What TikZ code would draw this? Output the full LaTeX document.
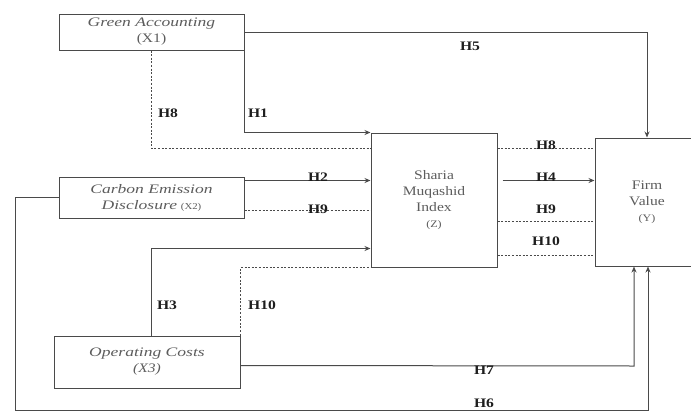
\documentclass[tikz,border=0pt]{standalone}
\usepackage{fontspec}
\setmainfont{Liberation Serif}[FakeStretch=1.2]
\newfontfamily\wideit{Liberation Serif}[FakeStretch=1.35]
\usetikzlibrary{positioning,arrows.meta,calc}
\definecolor{trazo}{HTML}{4A4A4A}
\definecolor{texto}{HTML}{5C5C5C}
\definecolor{etiq}{HTML}{1E1E1E}

\begin{document}
\begin{tikzpicture}[x=1pt, y=-1pt,
  font=\fontsize{13}{16}\selectfont,
  varbox/.style={draw=trazo, line width=1pt, align=center, inner sep=0pt, text=texto},
  arrowline/.style={-{Stealth[length=6pt,width=5pt]}, line width=1pt, trazo},
  plainline/.style={line width=1pt, trazo},
  dotline/.style={line width=0.8pt, trazo, dash pattern=on 2pt off 1.6pt},
  hyp/.style={font=\fontsize{13}{15}\selectfont\bfseries, text=etiq, inner sep=0pt}
]
  \useasboundingbox (0,0) rectangle (691,410);

  % variables
  \node[varbox, minimum width=185pt, minimum height=36pt] (green) at (151.5,32)
    {{\wideit\itshape Green Accounting}\\(X1)};
  \node[varbox, minimum width=185pt, minimum height=41pt] (carbon) at (151.5,197.5)
    {{\wideit\itshape Carbon Emission}\\{\wideit\itshape Disclosure} {\fontsize{9}{10}\selectfont (X2)}};
  \node[varbox, minimum width=186pt, minimum height=52pt] (opcost) at (147,362)
    {{\wideit\itshape Operating Costs}\\{\itshape (X3)}};
  \node[varbox, minimum width=126pt, minimum height=134pt] (sharia) at (434,200)
    {Sharia\\Muqashid\\Index\\{\fontsize{10}{12}\selectfont (Z)}};
  \node[varbox, minimum width=104pt, minimum height=128pt] (firm) at (647,202)
    {Firm\\Value\\{\fontsize{10}{12}\selectfont (Y)}};

  % helper points
  \coordinate (s8) at ($(sharia.north west)+(0,16)$);
  \coordinate (t8) at ($(sharia.north east)+(0,16)$);
  \coordinate (c2) at ($(carbon.north east)+(0,4)$);
  \coordinate (c9) at ($(carbon.north east)+(0,34)$);
  \coordinate (t4) at ($(sharia.north east)+(5,48)$);
  \coordinate (t9) at ($(sharia.north east)+(0,89)$);
  \coordinate (t10) at ($(sharia.north east)+(0,123)$);
  \coordinate (o3) at (opcost.north -| green.south);
  \coordinate (s3) at ($(sharia.south west)+(0,-19)$);
  \coordinate (o7) at ($(opcost.north east)+(0,30)$);
  \coordinate (k7) at (634,366);
  \coordinate (l6) at (15,197);
  \coordinate (b6) at (15,410.8);
  \coordinate (r6) at (648,410.8);

  % direct paths
  \draw[arrowline] (green.east) -| (firm.north);
  \draw[arrowline] (green.south east) |- (sharia.north west);
  \draw[arrowline] (c2) -- (c2 -| sharia.west);
  \draw[arrowline] (o3) |- (s3);
  \draw[arrowline] (t4) -- (t4 -| firm.west);
  \draw[arrowline] (o7) -- (k7) -- (k7 |- firm.south);
  \draw[plainline] (carbon.west |- l6) -- (l6) -- (b6) -- (r6);
  \draw[arrowline] (r6) -- (r6 |- firm.south);

  % mediated paths
  \draw[dotline] (green.south) |- (s8);
  \draw[dotline] (t8) -- (t8 -| firm.west);
  \draw[dotline] (c9) -- (c9 -| sharia.west);
  \draw[dotline] (t9) -- (t9 -| firm.west);
  \draw[dotline] (opcost.north east) |- (sharia.south west);
  \draw[dotline] (t10) -- (t10 -| firm.west);

  % hypothesis labels
  \node[hyp] (h5) at (470,46) {H5};
  \node[hyp] (h8a) at (168,113) {H8};
  \node[hyp] (h1) at (258,113) {H1};
  \node[hyp] (h2) at (318,177) {H2};
  \node[hyp] (h9a) at (318,209) {H9};
  \node[hyp] (h8b) at (546,145) {H8};
  \node[hyp] (h4) at (546,177) {H4};
  \node[hyp] (h9b) at (546,209) {H9};
  \node[hyp] (h10b) at (546,241) {H10};
  \node[hyp] (h3) at (167,305) {H3};
  \node[hyp] (h10a) at (262,305) {H10};
  \node[hyp] (h7) at (484,370) {H7};
  \node[hyp] (h6) at (484,403) {H6};
\end{tikzpicture}
\end{document}
